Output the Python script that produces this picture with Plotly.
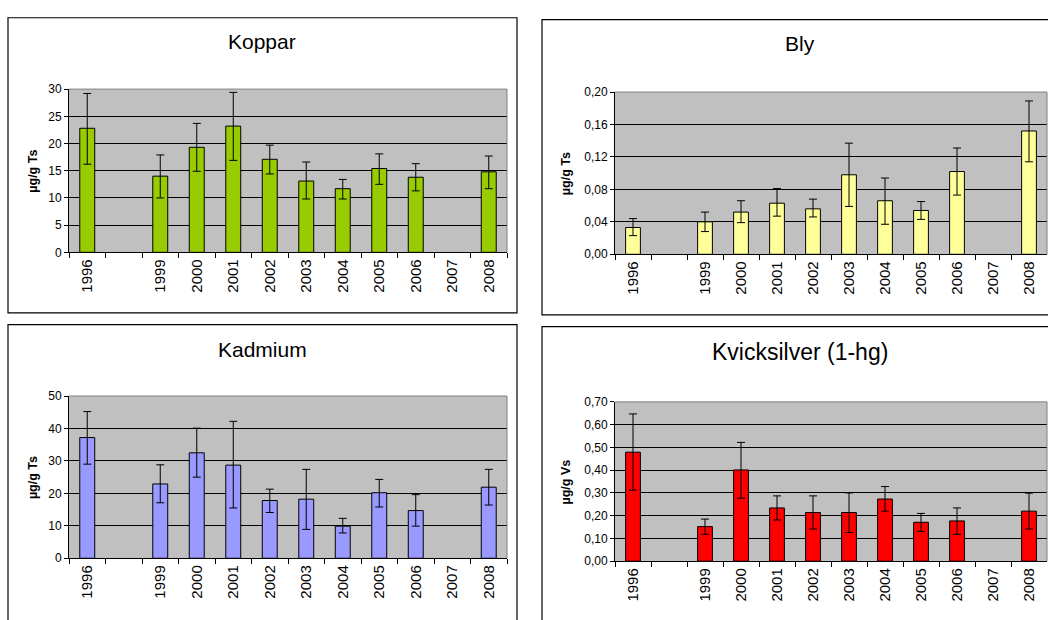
import plotly.graph_objects as go

W, H = 1048, 620

years = ["1996", " ", "1999", "2000", "2001", "2002", "2003", "2004", "2005", "2006", "2007", "2008"]

koppar = [22.8, None, 14.0, 19.3, 23.2, 17.1, 13.1, 11.7, 15.4, 13.8, None, 14.8]
koppar_hi = [29.2, None, 17.9, 23.7, 29.4, 19.7, 16.6, 13.4, 18.1, 16.3, None, 17.7]
koppar_lo = [16.2, None, 10.0, 14.9, 16.9, 14.4, 9.8, 9.8, 12.5, 11.3, None, 11.7]

bly = [0.033, None, 0.040, 0.052, 0.063, 0.056, 0.098, 0.066, 0.054, 0.102, None, 0.152]
bly_hi = [0.044, None, 0.052, 0.066, 0.081, 0.068, 0.137, 0.094, 0.065, 0.131, None, 0.189]
bly_lo = [0.023, None, 0.028, 0.039, 0.047, 0.046, 0.059, 0.037, 0.043, 0.073, None, 0.114]

kadmium = [37.2, None, 22.9, 32.5, 28.7, 17.8, 18.2, 9.9, 20.2, 14.7, None, 21.9]
kadmium_hi = [45.2, None, 28.8, 40.1, 42.2, 21.3, 27.4, 12.3, 24.3, 19.6, None, 27.4]
kadmium_lo = [29.0, None, 17.1, 25.0, 15.5, 14.1, 8.9, 7.8, 15.8, 9.9, None, 16.4]

kvick = [0.479, None, 0.152, 0.401, 0.234, 0.214, 0.214, 0.273, 0.171, 0.177, None, 0.220]
kvick_hi = [0.647, None, 0.185, 0.522, 0.287, 0.287, 0.300, 0.328, 0.210, 0.234, None, 0.299]
kvick_lo = [0.312, None, 0.118, 0.277, 0.181, 0.141, 0.126, 0.220, 0.131, 0.118, None, 0.141]

titles = ["Koppar", "Bly", "Kadmium", "Kvicksilver (1-hg)"]
ylabels = ["µg/g Ts", "µg/g Ts", "µg/g Ts", "µg/g Vs"]
colors = ["#99CC00", "#FFFF99", "#9999FF", "#FF0000"]


def px(x):
    return x / W


def py(y):
    return 1 - y / H


panels = [
    dict(vals=koppar, hi=koppar_hi, lo=koppar_lo, xd=(69, 507), yd=(84, 251),
         rng=[0, 30], dtick=5, fmt="d", frame=(8, 11, 517, 313), tx=262, ty=35,
         lx=33, tsize=21),
    dict(vals=bly, hi=bly_hi, lo=bly_lo, xd=(615, 1047), yd=(87, 253),
         rng=[0, 0.2], dtick=0.04, fmt=".2f", frame=(542, 13, 1060, 315), tx=800, ty=37,
         lx=566, tsize=21),
    dict(vals=kadmium, hi=kadmium_hi, lo=kadmium_lo, xd=(69, 507), yd=(398, 564),
         rng=[0, 50], dtick=10, fmt="d", frame=(8, 325, 517, 640), tx=262, ty=350,
         lx=33, tsize=21),
    dict(vals=kvick, hi=kvick_hi, lo=kvick_lo, xd=(615, 1047), yd=(404, 567),
         rng=[0, 0.7], dtick=0.1, fmt=".2f", frame=(542, 327, 1060, 640), tx=800, ty=353,
         lx=566, tsize=23),
]

fig = go.Figure()
shapes = []
annotations = []
layout = {}

for i, p in enumerate(panels):
    n = "" if i == 0 else str(i + 1)
    up = [None if v is None else h - v for v, h in zip(p["vals"], p["hi"])]
    dn = [None if v is None else v - l for v, l in zip(p["vals"], p["lo"])]
    fig.add_trace(go.Bar(
        x=years, y=p["vals"], xaxis="x" + n, yaxis="y" + n,
        marker=dict(color=colors[i], line=dict(color="#000000", width=1)),
        error_y=dict(type="data", symmetric=False, array=up, arrayminus=dn,
                     color="#000000", thickness=1, width=4),
        showlegend=False, hoverinfo="x+y",
    ))
    layout["xaxis" + n] = dict(
        domain=[px(p["xd"][0]), px(p["xd"][1])], anchor="y" + n,
        type="category", categoryorder="array", categoryarray=years,
        tickangle=-90, tickson="boundaries", ticks="outside", ticklen=5,
        tickcolor="#000000", showline=True, linecolor="#000000", linewidth=1,
        showgrid=False, zeroline=False,
        tickfont=dict(family="Liberation Sans, Arial", size=15, color="#000000"),
        fixedrange=True,
    )
    layout["yaxis" + n] = dict(
        domain=[py(p["yd"][1]), py(p["yd"][0])], anchor="x" + n,
        range=p["rng"], dtick=p["dtick"], tick0=0, tickformat=p["fmt"],
        ticks="outside", ticklen=4, tickcolor="#000000",
        showline=True, linecolor="#000000", linewidth=1,
        showgrid=True, gridcolor="#000000", gridwidth=1, zeroline=False,
        tickfont=dict(family="Liberation Sans, Arial", size=12, color="#000000"),
        fixedrange=True,
    )
    # plot-area border (top and right) in grey
    shapes.append(dict(type="line", xref="x" + n + " domain", yref="y" + n + " domain",
                       x0=0, x1=1, y0=1, y1=1, line=dict(color="#808080", width=1)))
    shapes.append(dict(type="line", xref="x" + n + " domain", yref="y" + n + " domain",
                       x0=1, x1=1, y0=0, y1=1, line=dict(color="#808080", width=1)))
    fx0, fy0, fx1, fy1 = p["frame"]
    shapes.append(dict(type="rect", xref="paper", yref="paper",
                       x0=px(fx0), x1=px(fx1), y0=py(fy1), y1=py(fy0),
                       line=dict(color="#000000", width=1.2), fillcolor="rgba(0,0,0,0)"))
    annotations.append(dict(text=titles[i], xref="paper", yref="paper",
                            x=px(p["tx"]), y=py(p["ty"]), showarrow=False,
                            xanchor="center", yanchor="middle",
                            font=dict(family="Liberation Sans, Arial", size=p["tsize"], color="#000000")))
    annotations.append(dict(text="<b>" + ylabels[i] + "</b>", xref="paper", yref="paper",
                            x=px(p["lx"]), y=py((p["yd"][0] + p["yd"][1]) / 2 + 1),
                            showarrow=False, textangle=-90,
                            xanchor="center", yanchor="middle",
                            font=dict(family="Liberation Sans, Arial", size=12.5, color="#000000")))

fig.update_layout(
    width=W, height=H,
    margin=dict(l=0, r=0, t=0, b=0),
    paper_bgcolor="#FFFFFF",
    plot_bgcolor="#C0C0C0",
    separators=", ",
    bargap=0.59,
    shapes=shapes,
    annotations=annotations,
    **layout,
)

fig.write_html(
    "out.html",
    config={"displayModeBar": False},
    post_script="document.body.style.margin='0';document.body.style.padding='0';"
                "document.body.style.overflow='hidden';",
)
